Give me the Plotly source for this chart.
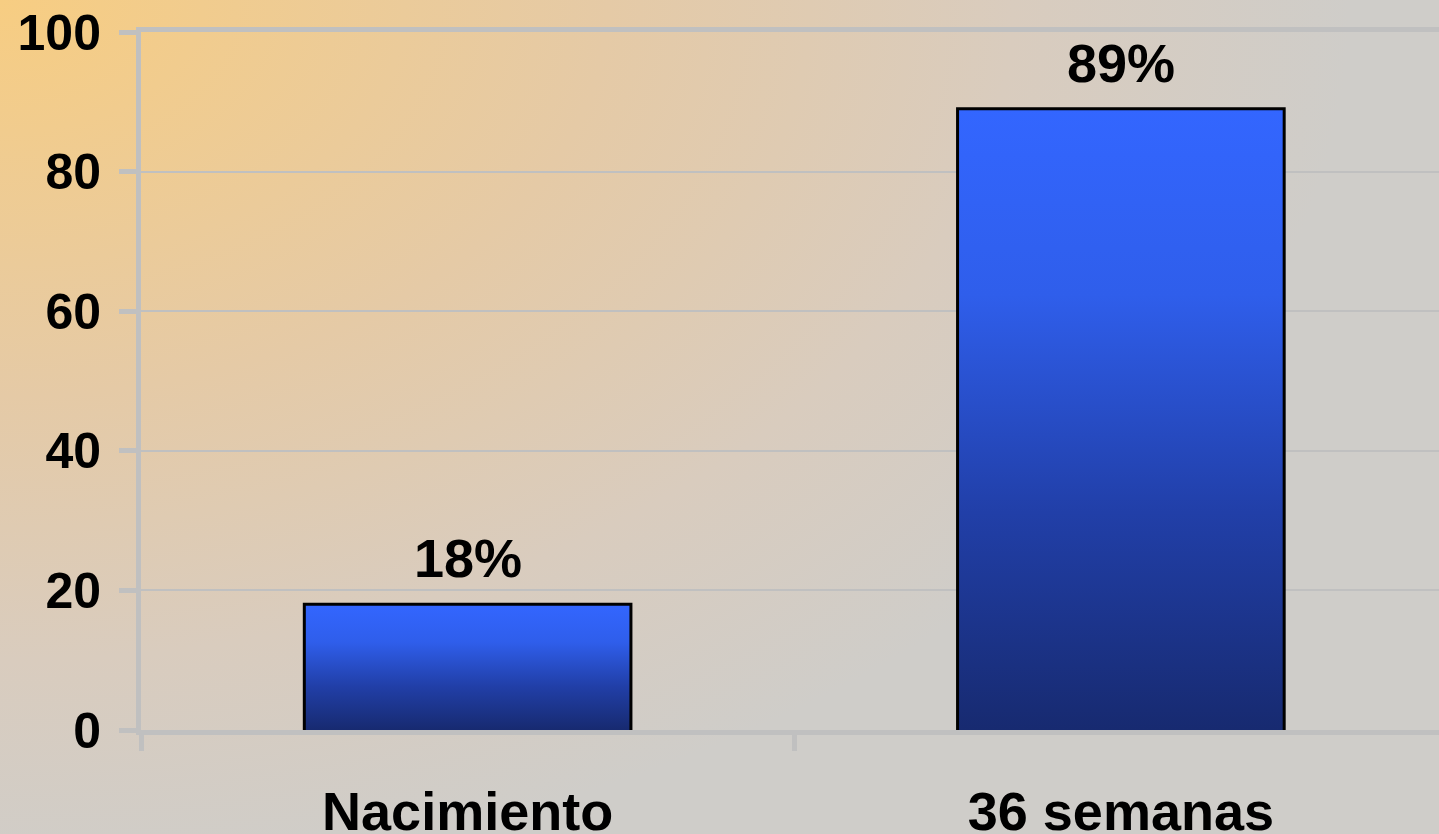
import base64
import plotly.graph_objects as go

# Data
categories = ["Nacimiento", "36 semanas"]
values = [18, 89]
value_labels = ["18%", "89%"]
y_ticks = [0, 20, 40, 60, 80, 100]

FONT = "Liberation Sans, Arial, sans-serif"
AXIS_GREY = "#C0C0C0"
BAR_HALF = 0.25
BAR_SCALE = [[0.0, "#172a70"], [0.35, "#213fa8"], [0.7, "#2f5eeb"], [1.0, "#3366ff"]]

# Soft corner-to-corner background gradient (warm orange top-left fading into grey)
svg = (
    '<svg xmlns="http://www.w3.org/2000/svg" width="1439" height="834" viewBox="0 0 1439 834" '
    'preserveAspectRatio="none">'
    '<defs><radialGradient id="g" gradientUnits="userSpaceOnUse" cx="0" cy="0" r="1" '
    'gradientTransform="scale(1350 880)">'
    '<stop offset="0" stop-color="#F7CD82"/>'
    '<stop offset="0.45" stop-color="#E5CAA6"/>'
    '<stop offset="0.75" stop-color="#D9CCBE"/>'
    '<stop offset="1" stop-color="#CFCDC9"/>'
    '</radialGradient></defs>'
    '<rect width="1439" height="834" fill="url(#g)"/></svg>'
)
bg_uri = "data:image/svg+xml;base64," + base64.b64encode(svg.encode()).decode()

W, H = 1439, 834
M = dict(l=141, r=0, t=32, b=104)
pw, ph = W - M["l"] - M["r"], H - M["t"] - M["b"]

fig = go.Figure()

# Bars as filled outlines with a vertical gradient
for i, v in enumerate(values):
    fig.add_trace(go.Scatter(
        x=[i - BAR_HALF, i - BAR_HALF, i + BAR_HALF, i + BAR_HALF],
        y=[0, v, v, 0],
        mode="lines",
        fill="toself",
        fillgradient=dict(type="vertical", colorscale=BAR_SCALE),
        line=dict(color="black", width=3),
        hoverinfo="skip",
        showlegend=False,
    ))

# Value labels above bars
for i, (v, t) in enumerate(zip(values, value_labels)):
    fig.add_annotation(
        x=i, y=v, text=t, showarrow=False, yanchor="bottom", yshift=14,
        font=dict(family=FONT, size=54, color="black", weight="bold"),
    )

fig.update_layout(
    width=W, height=H, margin=dict(M, autoexpand=False),
    paper_bgcolor="#CFCDC9", plot_bgcolor="rgba(0,0,0,0)",
    images=[dict(
        source=bg_uri, xref="paper", yref="paper",
        x=-M["l"] / pw, y=1 + M["t"] / ph, sizex=W / pw, sizey=H / ph,
        xanchor="left", yanchor="top", sizing="stretch", layer="below",
    )],
    xaxis=dict(
        range=[-0.5, 1.487], automargin=False,
        tickvals=list(range(len(categories))), ticktext=categories,
        ticks="", ticklabelstandoff=30,
        tickfont=dict(family=FONT, size=54, color="black", weight="bold"),
        showgrid=False, zeroline=False,
        showline=True, linewidth=5, linecolor=AXIS_GREY, mirror=True,
        minor=dict(tickvals=[k - 0.5 for k in range(len(categories) + 1)],
                   ticks="outside", ticklen=16, tickwidth=5, tickcolor=AXIS_GREY,
                   showgrid=False),
        fixedrange=True,
    ),
    yaxis=dict(
        range=[0, 100], tickvals=y_ticks, automargin=False,
        ticks="outside", ticklen=17, tickwidth=5, tickcolor=AXIS_GREY,
        ticklabelstandoff=8,
        tickfont=dict(family=FONT, size=50, color="black", weight="bold"),
        showgrid=True, gridcolor=AXIS_GREY, gridwidth=2, zeroline=False,
        showline=True, linewidth=5, linecolor=AXIS_GREY,
        fixedrange=True,
    ),
)

fig.write_html("out.html", config={"displayModeBar": False})
